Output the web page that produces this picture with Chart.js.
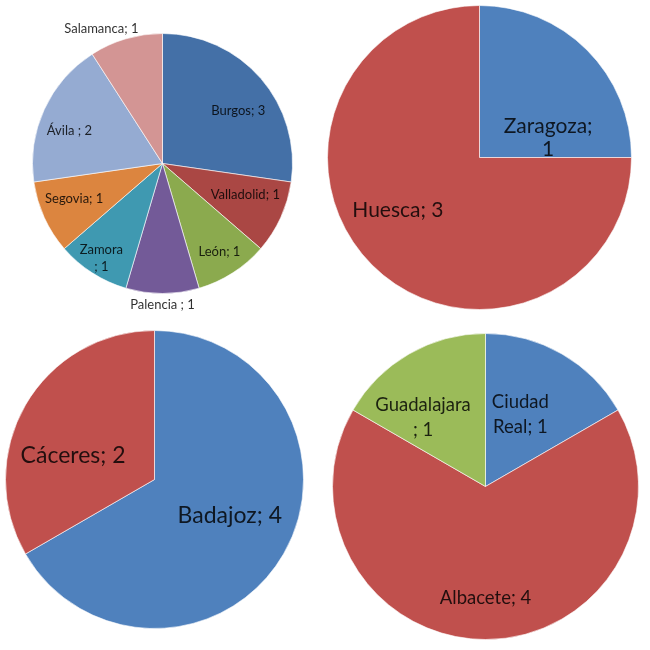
<!DOCTYPE html>
<html>
<head>
<meta charset="utf-8">
<script src="https://cdn.jsdelivr.net/npm/chart.js@4/dist/chart.umd.min.js"></script>
<style>
  body { margin: 0; background: #fff; width: 650px; height: 650px; position: relative; overflow: hidden; }
  .pie { position: absolute; }
</style>
</head>
<body>
<div class="pie" id="boxCL"><canvas id="pieCL"></canvas></div>
<div class="pie" id="boxAR"><canvas id="pieAR"></canvas></div>
<div class="pie" id="boxEX"><canvas id="pieEX"></canvas></div>
<div class="pie" id="boxCM"><canvas id="pieCM"></canvas></div>
<script>
// Castilla y León
var clLabels = ['Burgos', 'Valladolid', 'León', 'Palencia ', 'Zamora ', 'Segovia', 'Ávila ', 'Salamanca'];
var clValues = [3, 1, 1, 1, 1, 1, 2, 1];
// Aragón
var arLabels = ['Zaragoza', 'Huesca'];
var arValues = [1, 3];
// Extremadura
var exLabels = ['Badajoz', 'Cáceres'];
var exValues = [4, 2];
// Castilla-La Mancha
var cmLabels = ['Ciudad Real', 'Albacete', 'Guadalajara '];
var cmValues = [1, 4, 1];

var FONT = 'Lato, "Noto Sans", sans-serif';

function wrap(ctx, text, maxW) {
    var words = text.split(' ');
    var lines = [];
    var cur = '';
    for (var i = 0; i < words.length; i++) {
        var test = cur ? cur + ' ' + words[i] : words[i];
        if (cur && ctx.measureText(test).width > maxW) {
            lines.push(cur);
            cur = words[i];
        } else {
            cur = test;
        }
    }
    lines.push(cur);
    return lines;
}

// writes "name; value" on each slice, placed from the arc's own angle and radius
var sliceLabels = {
    id: 'sliceLabels',
    afterDatasetsDraw: function(chart, args, opts) {
        var ctx = chart.ctx;
        var meta = chart.getDatasetMeta(0);
        var values = chart.data.datasets[0].data;
        ctx.save();
        ctx.font = opts.size + 'px ' + FONT;
        ctx.fillStyle = 'rgba(0,0,0,0.82)';
        ctx.textAlign = 'center';
        ctx.textBaseline = 'middle';
        meta.data.forEach(function(arc, i) {
            var p = opts.place[i];
            var a = (arc.startAngle + arc.endAngle) / 2 + p.da * Math.PI / 180;
            var rr = arc.outerRadius * p.r;
            var x = arc.x + Math.cos(a) * rr;
            var y = arc.y + Math.sin(a) * rr;
            var lines = wrap(ctx, chart.data.labels[i] + '; ' + values[i], p.w || 999);
            lines.forEach(function(ln, k) {
                ctx.fillText(ln, x, y + (k - (lines.length - 1) / 2) * opts.lh);
            });
        });
        ctx.restore();
    }
};

function makePie(id, cx, cy, r, pad, labels, values, colors, labelOpts) {
    var box = document.getElementById('box' + id);
    var size = 2 * (r + pad) + 1;
    box.style.left = (cx - r - pad) + 'px';
    box.style.top = (cy - r - pad) + 'px';
    box.style.width = size + 'px';
    box.style.height = size + 'px';
    return new Chart(document.getElementById('pie' + id), {
        type: 'pie',
        data: {
            labels: labels,
            datasets: [{
                data: values,
                backgroundColor: colors,
                borderColor: 'rgba(255,255,255,0.6)',
                borderWidth: 1
            }]
        },
        options: {
            responsive: true,
            maintainAspectRatio: false,
            animation: false,
            layout: { padding: pad },
            plugins: {
                legend: { display: false },
                tooltip: { enabled: false },
                sliceLabels: labelOpts
            }
        },
        plugins: [sliceLabels]
    });
}

makePie('CL', 162, 163, 130, 32, clLabels, clValues,
    ['#4470A7', '#AA4744', '#8BAA4E', '#735A98', '#3F99B1', '#DC853F', '#95ABD2', '#D39594'],
    { size: 13, lh: 17, place: [
        { r: 0.71, da: 6 },
        { r: 0.68, da: -4 },
        { r: 0.81, da: 0 },
        { r: 1.09, da: 0 },
        { r: 0.87, da: 0, w: 50 },
        { r: 0.73, da: 3 },
        { r: 0.76, da: -5 },
        { r: 1.14, da: -8 }
    ] });

makePie('AR', 479, 157, 152, 4, arLabels, arValues,
    ['#4F81BD', '#C0504D'],
    { size: 21, lh: 23, place: [
        { r: 0.47, da: 29, w: 90 },
        { r: 0.64, da: 12 }
    ] });

makePie('EX', 154, 479, 149, 4, exLabels, exValues,
    ['#4F81BD', '#C0504D'],
    { size: 23, lh: 26, place: [
        { r: 0.56, da: -4.5 },
        { r: 0.57, da: -13.5 }
    ] });

makePie('CM', 485, 486, 153, 4, cmLabels, cmValues,
    ['#4F81BD', '#C0504D', '#9BBB59'],
    { size: 18.5, lh: 25, place: [
        { r: 0.52, da: -4, w: 60 },
        { r: 0.73, da: 0 },
        { r: 0.61, da: -12, w: 100 }
    ] });
</script>
</body>
</html>
